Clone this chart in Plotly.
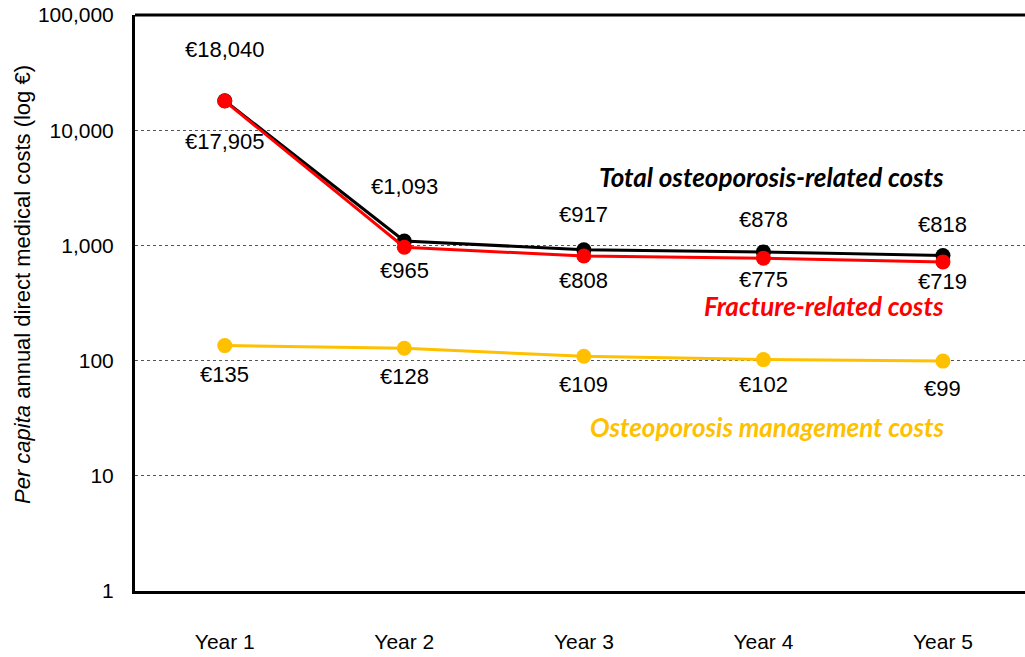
import math
import plotly.graph_objects as go

years = ["Year 1", "Year 2", "Year 3", "Year 4", "Year 5"]
total_costs = [18040, 1093, 917, 878, 818]
fracture_costs = [17905, 965, 808, 775, 719]
management_costs = [135, 128, 109, 102, 99]

total_labels = ["€18,040", "€1,093", "€917", "€878", "€818"]
fracture_labels = ["€17,905", "€965", "€808", "€775", "€719"]
management_labels = ["€135", "€128", "€109", "€102", "€99"]

# label vertical offsets in px (positive = up)
total_dy = [51, 54, 35, 32, 31]
fracture_dy = [-40, -23, -24, -21, -20]
management_dy = [-29, -28, -28, -25, -27]

ytick_vals = [1, 10, 100, 1000, 10000, 100000]
ytick_text = ["1", "10", "100", "1,000", "10,000", "100,000"]

BLACK = "#000000"
RED = "#FF0000"
GOLD = "#FFC000"
FONT = "Liberation Sans, Arial, sans-serif"
LABEL_FONT = "Lato, sans-serif"

fig = go.Figure()
for vals, color in [(total_costs, BLACK), (fracture_costs, RED), (management_costs, GOLD)]:
    fig.add_trace(go.Scatter(
        x=years, y=vals, mode="lines+markers",
        line=dict(color=color, width=3),
        marker=dict(color=color, size=15),
        showlegend=False, cliponaxis=False,
    ))

annotations = []
for labels, vals, dys in [(total_labels, total_costs, total_dy),
                          (fracture_labels, fracture_costs, fracture_dy),
                          (management_labels, management_costs, management_dy)]:
    for x, v, t, dy in zip(years, vals, labels, dys):
        annotations.append(dict(
            x=x, y=math.log10(v), xref="x", yref="y", text=t, showarrow=False,
            yshift=dy, font=dict(family=FONT, size=22, color="#000000"),
        ))

series_names = [
    ("<b><i>Total osteoporosis-related costs</i></b>", BLACK, 0.719),
    ("<b><i>Fracture-related costs</i></b>", RED, 0.494),
    ("<b><i>Osteoporosis management costs</i></b>", GOLD, 0.285),
]
for text, color, yp in series_names:
    annotations.append(dict(
        x="Year 5", xref="x", y=yp, yref="paper", text=text, showarrow=False,
        xanchor="right", yanchor="middle", xshift=3,
        font=dict(family=LABEL_FONT, size=26, color=color),
    ))

PLOT_L, PLOT_T, PLOT_B = 135, 15, 66
plot_w = 1025 - PLOT_L
plot_h = 657 - PLOT_T - PLOT_B
annotations.append(dict(
    x=(22 - PLOT_L) / plot_w, xref="paper", y=(657 - PLOT_B - 285) / plot_h, yref="paper",
    xanchor="center", yanchor="middle",
    text="<i>Per capita</i> annual direct medical costs (log €)",
    showarrow=False, textangle=-90, font=dict(family=FONT, size=22, color="#000000"),
))

fig.update_layout(
    width=1025, height=657,
    margin=dict(l=PLOT_L, r=0, t=PLOT_T, b=PLOT_B),
    paper_bgcolor="white", plot_bgcolor="white",
    font=dict(family=FONT, size=21, color="#000000"),
    xaxis=dict(
        type="category", range=[-0.5, 4.457],
        showline=True, linecolor="black", linewidth=3,
        showgrid=False, ticks="outside", ticklen=30, tickcolor="rgba(0,0,0,0)",
        tickfont=dict(size=21), zeroline=False,
    ),
    yaxis=dict(
        type="log", range=[0, 5],
        tickvals=ytick_vals, ticktext=ytick_text,
        showline=True, linecolor="black", linewidth=3,
        showgrid=True, gridcolor="#555555", gridwidth=1, griddash="dot",
        ticks="outside", ticklen=14, tickcolor="rgba(0,0,0,0)",
        tickfont=dict(size=21), zeroline=False,
    ),
    shapes=[dict(type="line", xref="paper", yref="paper", x0=0, x1=1, y0=1, y1=1,
                 line=dict(color="black", width=3))],
    annotations=annotations,
)

fig.write_html(
    "out.html",
    config={"displayModeBar": False},
    post_script="document.body.style.margin='0';document.body.style.overflow='hidden';",
)
